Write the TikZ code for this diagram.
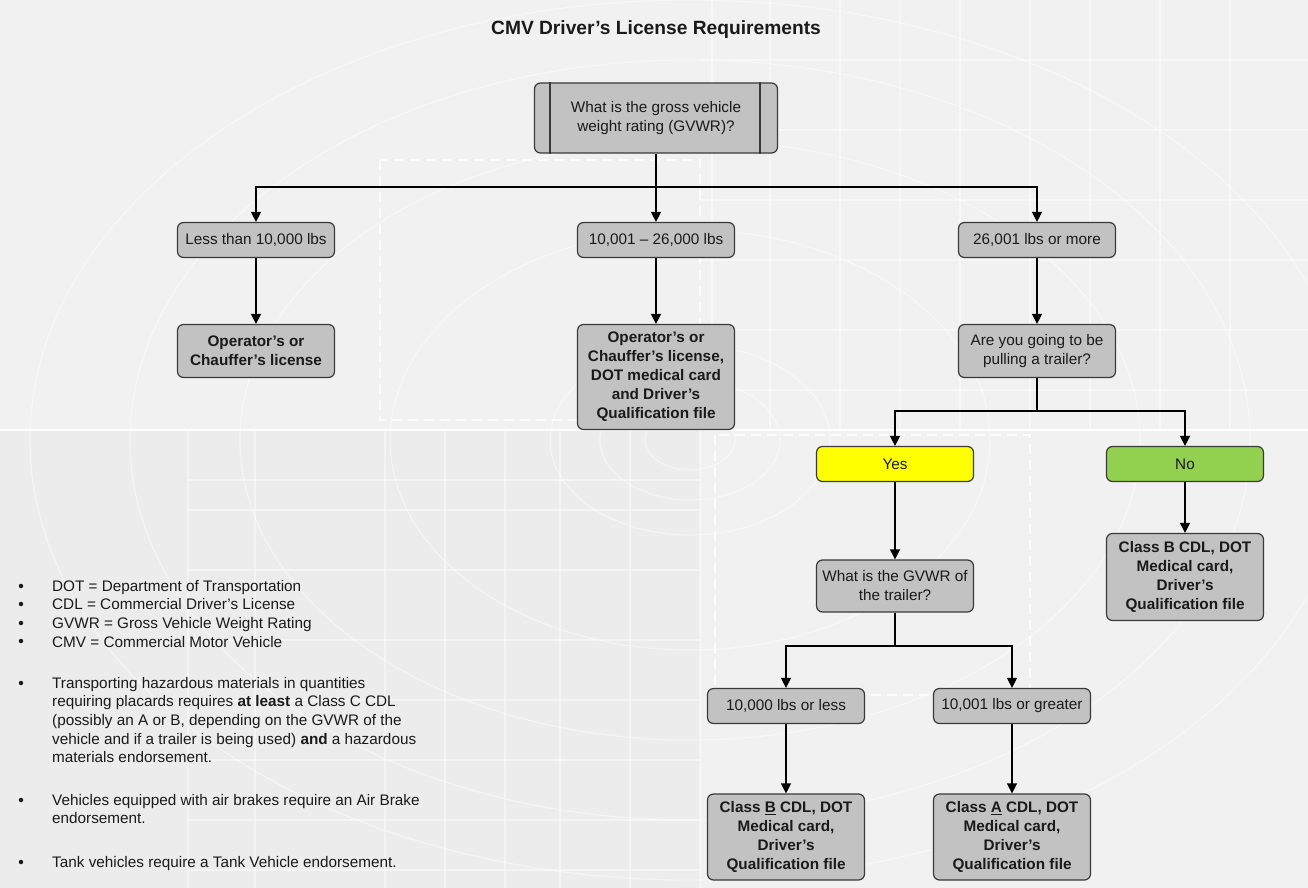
\documentclass[tikz,border=0pt]{standalone}
\usepackage{fontspec}
\setmainfont{Liberation Sans}
\usetikzlibrary{arrows.meta}
\definecolor{bg}{HTML}{F1F1F1}
\definecolor{bglow}{HTML}{ECECEC}
\definecolor{boxgray}{HTML}{C2C2C2}
\definecolor{boxline}{HTML}{3A3A3A}
\definecolor{txt}{HTML}{1A1A1A}
\definecolor{yesfill}{HTML}{FFFF00}
\definecolor{nofill}{HTML}{92D050}
\tikzset{
  deco/.style={white, line width=1.2pt, opacity=0.75},
  box/.style={draw=boxline, line width=1.2pt, fill=boxgray, rounded corners=6pt,
    text=txt, align=center, minimum width=157pt, minimum height=35pt, inner sep=2pt,
    font=\fontsize{15.3}{19}\selectfont},
  bbox/.style={box, font=\fontsize{15.3}{19}\selectfont\bfseries},
  arr/.style={draw=black, line width=1.2pt, -{Triangle[width=10pt,length=10pt]}},
  link/.style={draw=black, line width=1.2pt},
  legend/.style={anchor=north west, inner sep=0pt, align=left, text=txt,
    font=\fontsize{15.3}{18.6}\selectfont},
  bullet/.style={circle, fill=txt, inner sep=0pt, minimum size=4.5pt}
}
\begin{document}
\begin{tikzpicture}[x=1pt,y=-1pt]
\useasboundingbox (0,0) rectangle (1308,888);
% background
\fill[bg] (0,0) rectangle (1308,888);
\fill[bglow] (0,430) rectangle (700,888);
\begin{scope}
\clip (0,0) rectangle (1308,888);
\foreach \r/\s in {45/30,90/60,140/95,300/210,450/300,560/380,660/440}
  \draw[deco, opacity=0.45] (690,440) ellipse ({\r*1.0} and \s);
\foreach \x in {712,770,840,900,960,1030,1090,1160,1230}
  \draw[deco, opacity=0.45] (\x,0) -- (\x,430);
\foreach \y in {60,130,200,260,330,390}
  \draw[deco, opacity=0.45] (700,\y) -- (1308,\y);
\foreach \x in {188,255,385,445,505,560,630,700}
  \draw[deco, opacity=0.45] (\x,430) -- (\x,888);
\foreach \y in {480,510,570,640,700,760,820,870}
  \draw[deco, opacity=0.45] (188,\y) -- (700,\y);
\draw[deco, dashed, opacity=0.8, dash pattern=on 10pt off 6pt] (380,160) rectangle (700,420);
\draw[deco, dashed, opacity=0.8, dash pattern=on 10pt off 6pt] (715,435) rectangle (1030,695);
\draw[white, line width=2pt] (0,430) -- (1308,430);
\end{scope}

% title
\node[text=txt, font=\fontsize{19.2}{22}\selectfont\bfseries] (title) at (656,30) {CMV Driver’s License Requirements};

% nodes
\node[box, minimum width=243pt, minimum height=70pt] (q) at (656,118) {What is the gross vehicle\\weight rating (GVWR)?};
\draw[boxline, line width=1.4pt] ([xshift=16pt]q.north west) -- ([xshift=16pt]q.south west);
\draw[boxline, line width=1.4pt] ([xshift=-18pt]q.north east) -- ([xshift=-18pt]q.south east);

\node[box] (a1) at (256,240) {Less than 10,000 lbs};
\node[box] (a2) at (656,240) {10,001 – 26,000 lbs};
\node[box] (a3) at (1037,240) {26,001 lbs or more};

\node[bbox, minimum height=53pt] (b1) at (256,351) {Operator’s or\\Chauffer’s license};
\node[bbox, minimum height=105pt] (b2) at (656,377) {Operator’s or\\Chauffer’s license,\\DOT medical card\\and Driver’s\\Qualification file};
\node[box, minimum height=53pt] (b3) at (1037,351) {Are you going to be\\pulling a trailer?};

\node[box, fill=yesfill] (yes) at (895,464) {Yes};
\node[box, fill=nofill] (no) at (1185,464) {No};

\node[box, minimum height=52pt] (tq) at (895,586) {What is the GVWR of\\the trailer?};
\node[bbox, minimum height=87pt] (cb1) at (1185,577) {Class B CDL, DOT\\Medical card,\\Driver’s\\Qualification file};

\node[box] (t1) at (786,706) {10,000 lbs or less};
\node[box] (t2) at (1012,706) {10,001 lbs or greater};

\node[bbox, minimum height=86pt] (cb2) at (786,837) {Class \underline{B} CDL, DOT\\Medical card,\\Driver’s\\Qualification file};
\node[bbox, minimum height=86pt] (ca) at (1012,837) {Class \underline{A} CDL, DOT\\Medical card,\\Driver’s\\Qualification file};

% connectors
\coordinate (bus1) at (0,187);
\coordinate (bus2) at (0,411);
\coordinate (bus3) at (0,646);
\draw[link] (q.south) -- (q.south |- bus1);
\draw[arr] (q.south |- bus1) -| (a1.north);
\draw[arr] (q.south |- bus1) -| (a3.north);
\draw[arr] (q.south |- bus1) -- (a2.north);
\draw[arr] (a1) -- (b1);
\draw[arr] (a2) -- (b2);
\draw[arr] (a3) -- (b3);
\draw[link] (b3.south) -- (b3.south |- bus2);
\draw[arr] (b3.south |- bus2) -| (yes.north);
\draw[arr] (b3.south |- bus2) -| (no.north);
\draw[arr] (yes) -- (tq);
\draw[arr] (no) -- (cb1);
\draw[link] (tq.south) -- (tq.south |- bus3);
\draw[arr] (tq.south |- bus3) -| (t1.north);
\draw[arr] (tq.south |- bus3) -| (t2.north);
\draw[arr] (t1) -- (cb2);
\draw[arr] (t2) -- (ca);

% legend
\node[legend] (l1) at (52,580) {DOT = Department of Transportation\\CDL = Commercial Driver’s License\\GVWR = Gross Vehicle Weight Rating\\CMV = Commercial Motor Vehicle};
\node[legend] (l2) at (52,677) {Transporting hazardous materials in quantities\\requiring placards requires \textbf{at least} a Class C CDL\\(possibly an A or B, depending on the GVWR of the\\vehicle and if a trailer is being used) \textbf{and} a hazardous\\materials endorsement.};
\node[legend] (l3) at (52,794) {Vehicles equipped with air brakes require an Air Brake\\endorsement.};
\node[legend] (l4) at (52,856) {Tank vehicles require a Tank Vehicle endorsement.};
\foreach \y [count=\i] in {586,604,623,641,683,800,862}
  \node[bullet] (bu\i) at (21,\y) {};
\end{tikzpicture}
\end{document}
